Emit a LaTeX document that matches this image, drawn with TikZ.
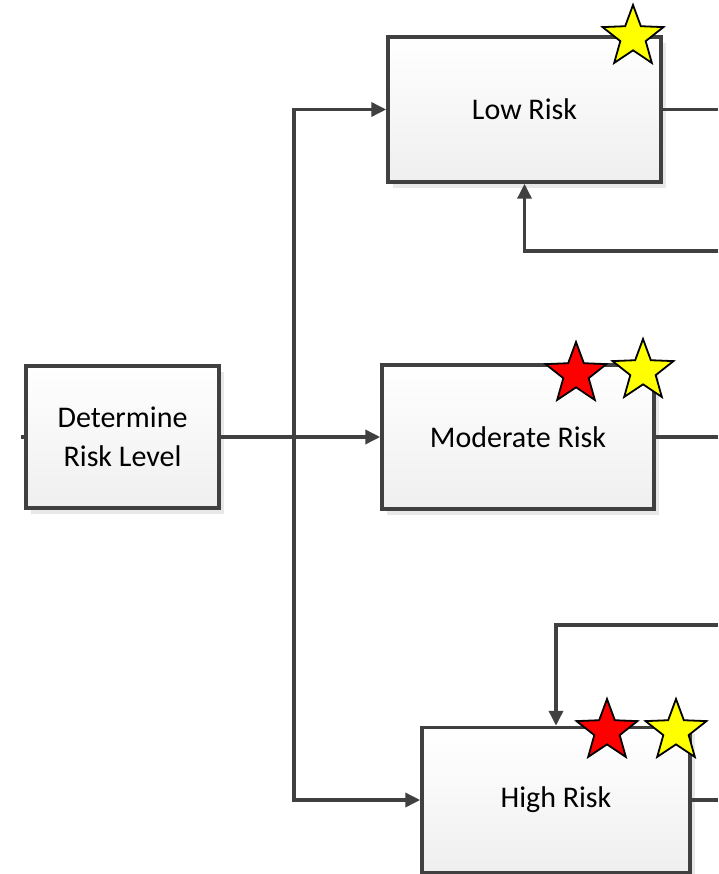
\documentclass[tikz,border=0pt]{standalone}
\usepackage{fontspec}
\setmainfont{Carlito}
\usetikzlibrary{arrows.meta,shapes.geometric}
\definecolor{lineg}{HTML}{404040}
\definecolor{shadowg}{HTML}{E8E8E8}
\definecolor{boxbot}{HTML}{EFEFEF}
\definecolor{staryellow}{HTML}{FFFF00}
\definecolor{starred}{HTML}{FF0000}
\tikzset{
  box/.style={draw=lineg, line width=3.5pt, rectangle, inner sep=0pt,
    top color=white, bottom color=boxbot, align=center,
    font=\fontsize{30}{39}\selectfont,
    preaction={fill=shadowg, transform canvas={shift={(5pt,-6pt)}}}},
  conn/.style={draw=lineg, line width=3.5pt},
  arr/.style={conn, -{Triangle[length=15pt,width=14pt]}},
  starbase/.style={star, star points=5, star point ratio=2.4, draw=black, line width=1.8pt,
    minimum size=64pt, inner sep=0pt},
  ystar/.style={starbase, fill=staryellow},
  rstar/.style={starbase, fill=starred}
}
\begin{document}
\begin{tikzpicture}[x=1pt,y=-1pt]
\useasboundingbox (0,0) rectangle (718,874);
\fill[white] (0,0) rectangle (718,874);
% boxes
\node[box, minimum width=193pt, minimum height=142pt] (det) at (122.5,437) {Determine\\Risk Level};
\node[box, minimum width=273pt, minimum height=145pt] (low) at (524.5,109.5) {Low Risk};
\node[box, minimum width=272pt, minimum height=144pt] (mod) at (518,437) {Moderate Risk};
\node[box, minimum width=268pt, minimum height=145pt] (high) at (556,800) {High Risk};
% coordinates
\coordinate (s) at (21,437);
\coordinate (j) at (294,437);
\coordinate (lo) at (718,109.5);
\coordinate (lf) at (718,251);
\coordinate (mo) at (718,437);
\coordinate (ho) at (718,800);
\coordinate (hf) at (718,625);
% connectors
\draw[conn] (s) -- (det.west);
\draw[arr] (det.east) -- (mod.west);
\draw[arr] (j) |- (low.west);
\draw[arr] (j) |- (high.west);
\draw[conn] (low.east) -- (lo);
\draw[arr] (lf) -| (low.south);
\draw[conn] (mod.east) -- (mo);
\draw[conn] (high.east) -- (ho);
\draw[arr] (hf) -| (high.north);
% stars
\node[ystar] (s1) at (633,37) {};
\node[rstar] (s2) at (576,374) {};
\node[ystar] (s3) at (643,371) {};
\node[rstar] (s4) at (607,731) {};
\node[ystar] (s5) at (676,731) {};
\end{tikzpicture}
\end{document}
